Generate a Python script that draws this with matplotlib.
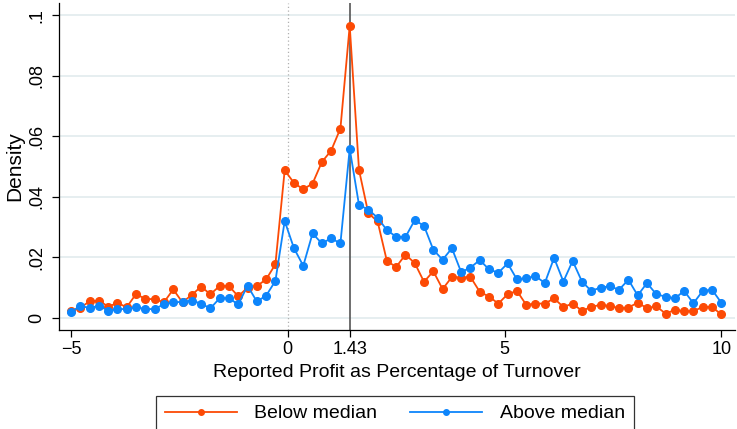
import numpy as np
import matplotlib
matplotlib.use("Agg")
from matplotlib import pyplot as plt
from matplotlib.lines import Line2D

plt.rcParams['font.family'] = ['Liberation Sans', 'DejaVu Sans']

# bin grid: 71 bins from -5 to 10 (1.43 falls on a bin centre)
x_lo, x_hi, n_bins = -5, 10, 71
median_profit = 1.43

below_median = [
    0.0020, 0.0033, 0.0053, 0.0056, 0.0036, 0.0048, 0.0034, 0.0078, 0.0061, 0.0061,
    0.0050, 0.0093, 0.0050, 0.0075, 0.0102, 0.0077, 0.0104, 0.0104, 0.0070, 0.0099,
    0.0104, 0.0126, 0.0176, 0.0487, 0.0445, 0.0424, 0.0443, 0.0514, 0.0552, 0.0625,
    0.0965, 0.0488, 0.0345, 0.0318, 0.0187, 0.0167, 0.0208, 0.0180, 0.0118, 0.0153,
    0.0094, 0.0134, 0.0132, 0.0134, 0.0085, 0.0069, 0.0046, 0.0077, 0.0088, 0.0042,
    0.0046, 0.0046, 0.0063, 0.0035, 0.0046, 0.0022, 0.0035, 0.0042, 0.0038, 0.0031,
    0.0033, 0.0049, 0.0031, 0.0037, 0.0013, 0.0025, 0.0021, 0.0021, 0.0035, 0.0035,
    0.0010,
]
above_median = [
    0.0017, 0.0039, 0.0031, 0.0039, 0.0023, 0.0028, 0.0028, 0.0034, 0.0028, 0.0028,
    0.0044, 0.0050, 0.0052, 0.0056, 0.0046, 0.0030, 0.0064, 0.0064, 0.0043, 0.0105,
    0.0053, 0.0072, 0.0121, 0.0319, 0.0229, 0.0171, 0.0278, 0.0245, 0.0262, 0.0245,
    0.0558, 0.0372, 0.0357, 0.0330, 0.0289, 0.0267, 0.0266, 0.0322, 0.0303, 0.0224,
    0.0191, 0.0229, 0.0150, 0.0165, 0.0190, 0.0159, 0.0148, 0.0179, 0.0126, 0.0130,
    0.0137, 0.0114, 0.0197, 0.0119, 0.0187, 0.0119, 0.0088, 0.0099, 0.0103, 0.0092,
    0.0125, 0.0073, 0.0114, 0.0077, 0.0069, 0.0063, 0.0088, 0.0047, 0.0088, 0.0092,
    0.0049,
]

x_ticks = [-5, 0, 1.43, 5, 10]
x_ticklabels = ["\u22125", "0", "1.43", "5", "10"]
y_ticks = [0, 0.02, 0.04, 0.06, 0.08, 0.1]
y_ticklabels = ["0", ".02", ".04", ".06", ".08", ".1"]

red = "#fc4a05"
blue = "#0d85fb"

x = np.linspace(x_lo, x_hi, n_bins)

fig = plt.figure(figsize=(7.37, 4.29), dpi=100)
ax = fig.add_axes([0.0805, 0.231, 0.917, 0.762])

ax.set_xlim(-5.27, 10.32)
ax.set_ylim(-0.0041, 0.104)

for y in y_ticks:
    ax.axhline(y, color="#e6eef0", lw=1.4, zorder=0)
ax.axvline(0, color="#b0b0b0", lw=0.9, ls=(0, (1, 2)), zorder=1)
ax.axvline(median_profit, color="#555555", lw=1.2, zorder=1)

ax.plot(x, below_median, color=red, lw=1.3, marker="o", ms=5.5, zorder=3)
ax.plot(x, above_median, color=blue, lw=1.3, marker="o", ms=5.5, zorder=4)

ax.set_xticks(x_ticks)
ax.set_xticklabels(x_ticklabels, fontsize=13)
ax.set_yticks(y_ticks)
ax.set_yticklabels(y_ticklabels, fontsize=13, rotation=90, va="center")
ax.tick_params(direction="out", length=5, width=0.9, color="black")
ax.tick_params(axis="x", pad=3)
ax.tick_params(axis="y", pad=5)

ax.spines["top"].set_visible(False)
ax.spines["right"].set_visible(False)
ax.spines["left"].set_linewidth(0.9)
ax.spines["bottom"].set_linewidth(0.9)

ax.set_xlabel("Reported Profit as Percentage of Turnover", fontsize=14, labelpad=4)
ax.set_ylabel("Density", fontsize=15, labelpad=3)

handles = [
    Line2D([], [], color=red, lw=1.3, marker="o", ms=4),
    Line2D([], [], color=blue, lw=1.3, marker="o", ms=4),
]
leg = fig.legend(handles, ["Below median", "Above median"], loc="center",
                 bbox_to_anchor=(0.536, 0.036), ncol=2, fontsize=14,
                 frameon=True, fancybox=False, edgecolor="black",
                 handlelength=3.7, handletextpad=0.9, columnspacing=1.7,
                 borderpad=0.45)
leg.get_frame().set_linewidth(0.9)

fig.savefig("out.png", dpi=100)
